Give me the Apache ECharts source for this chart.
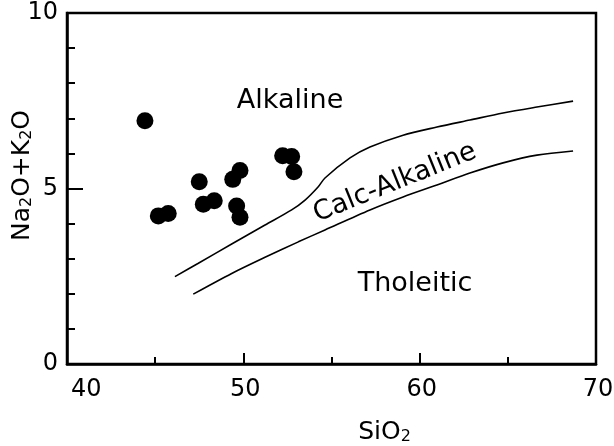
<!DOCTYPE html>
<html>
<head>
<meta charset="utf-8">
<script src="https://cdn.jsdelivr.net/npm/echarts@6/dist/echarts.min.js"></script>
<style>
html,body{margin:0;padding:0;background:#fff;}
#chart{width:614px;height:446px;}
</style>
</head>
<body>
<div id="chart"></div>
<script>
// Sample points (SiO2, Na2O+K2O)
var samplesSiO2 = [44.42, 45.18, 45.74, 47.50, 47.73, 48.35, 49.40, 49.81, 49.62, 49.81, 52.23, 52.74, 52.87];
var samplesAlk  = [6.93, 4.22, 4.29, 5.19, 4.55, 4.65, 5.26, 5.51, 4.50, 4.18, 5.93, 5.91, 5.48];

// Alkaline / Calc-Alkaline boundary
var upperSiO2 = [46.12, 47.45, 49.34, 51.23, 52.74, 53.50, 54.25, 54.63, 56.05, 57.18, 59.06, 60.98, 62.85, 64.73, 66.65, 68.70];
var upperAlk  = [2.49, 2.87, 3.42, 3.96, 4.39, 4.67, 5.05, 5.30, 5.87, 6.18, 6.52, 6.75, 6.95, 7.15, 7.32, 7.49];

// Calc-Alkaline / Tholeitic boundary
var lowerSiO2 = [47.16, 49.34, 51.23, 53.12, 54.63, 57.18, 59.06, 60.98, 62.85, 64.73, 66.65, 68.70];
var lowerAlk  = [1.99, 2.58, 3.04, 3.48, 3.82, 4.39, 4.76, 5.10, 5.44, 5.73, 5.95, 6.07];

// Field labels
var fieldNames = ['Alkaline', 'Calc-Alkaline', 'Tholeitic'];
var fieldSiO2  = [52.65, 58.6, 59.74];
var fieldAlk   = [7.49, 5.16, 2.28];
var fieldRot   = [0, 22, 0];

var xTicks = [40, 50, 60, 70];
var yTicks = [0, 5, 10];

function zip(a, b) { return a.map(function (v, i) { return [v, b[i]]; }); }

var FONT = 'DejaVu Sans';
var chart = echarts.init(document.getElementById('chart'), null, {renderer: 'canvas'});
chart.setOption({
  animation: false,
  backgroundColor: '#fff',
  grid: {left: 67, right: 18, top: 13, bottom: 82, containLabel: false, outerBoundsMode: 'none',
    show: true, borderColor: '#000', borderWidth: 2.5},
  xAxis: {
    type: 'value', min: xTicks[0], max: xTicks[xTicks.length - 1], interval: 10,
    name: 'SiO{s|2}', nameLocation: 'middle', nameGap: 56,
    nameTextStyle: {fontFamily: FONT, fontSize: 25, color: '#000', padding: [0, 0, 0, 106],
      rich: {s: {fontFamily: FONT, fontSize: 16, color: '#000', padding: [8, 0, 0, 0]}}},
    axisLine: {show: true, onZero: false, lineStyle: {color: '#000', width: 2.5}},
    axisTick: {show: true, inside: true, length: 11, lineStyle: {color: '#000', width: 2}},
    minorTick: {show: true, splitNumber: 2, length: 7, lineStyle: {color: '#000', width: 2}},
    splitLine: {show: false},
    axisLabel: {fontFamily: FONT, fontSize: 24, color: '#000', margin: 14,
      alignMinLabel: 'left', padding: [0, 0, 0, 4],
      formatter: function (v) { return xTicks.indexOf(v) >= 0 ? String(v) : ''; }}
  },
  yAxis: {
    type: 'value', min: yTicks[0], max: yTicks[yTicks.length - 1], interval: 5,
    name: 'Na{s|2}O+K{s|2}O', nameLocation: 'middle', nameGap: 32, nameMoveOverlap: false,
    nameTextStyle: {fontFamily: FONT, fontSize: 25, color: '#000', padding: [0, 0, 0, 26],
      rich: {s: {fontFamily: FONT, fontSize: 16, color: '#000', padding: [8, 0, 0, 0]}}},
    axisLine: {show: true, onZero: false, lineStyle: {color: '#000', width: 2.5}},
    axisTick: {show: true, inside: true, length: 16, lineStyle: {color: '#000', width: 2}},
    minorTick: {show: true, splitNumber: 5, length: 8, lineStyle: {color: '#000', width: 2}},
    splitLine: {show: false},
    axisLabel: {fontFamily: FONT, fontSize: 24, color: '#000', margin: 9,
      formatter: function (v) { return yTicks.indexOf(v) >= 0 ? String(v) : ''; }}
  },
  series: [
    {type: 'line', data: zip(upperSiO2, upperAlk), showSymbol: false, smooth: 0.3,
      lineStyle: {color: '#000', width: 1.6}},
    {type: 'line', data: zip(lowerSiO2, lowerAlk), showSymbol: false, smooth: 0.3,
      lineStyle: {color: '#000', width: 1.6}},
    {type: 'scatter', data: zip(samplesSiO2, samplesAlk), symbol: 'circle', symbolSize: 17,
      itemStyle: {color: '#000', opacity: 1}},
    {type: 'scatter', symbolSize: 0, silent: true, itemStyle: {opacity: 1},
      data: fieldNames.map(function (n, i) {
        return {name: n, value: [fieldSiO2[i], fieldAlk[i]],
          label: {rotate: fieldRot[i]}};
      }),
      label: {show: true, position: 'inside', formatter: '{b}', fontFamily: FONT, fontSize: 27, color: '#000', opacity: 1}}
  ]
});
</script>
</body>
</html>
